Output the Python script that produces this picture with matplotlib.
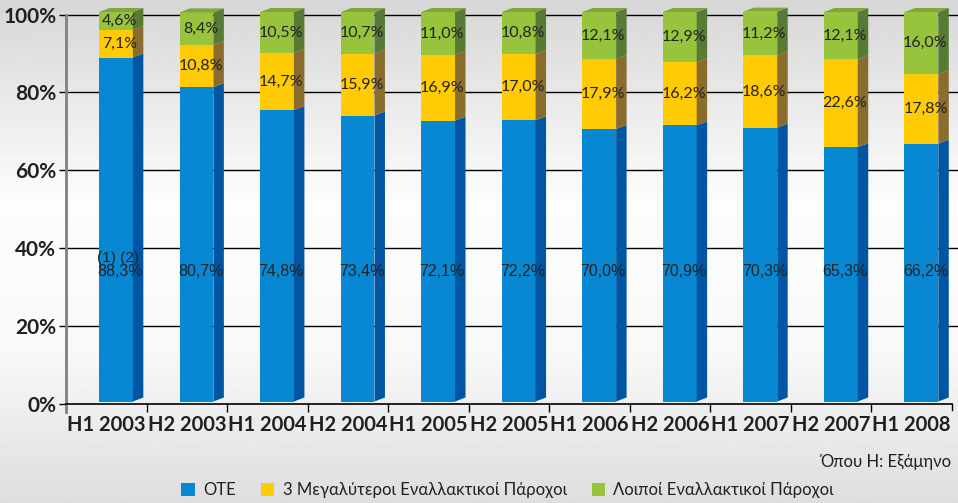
import numpy as np
import matplotlib
matplotlib.use("Agg")
import matplotlib.pyplot as plt
from matplotlib.patches import Polygon
from matplotlib.patches import Patch

periods = ["H1 2003", "H2 2003", "H1 2004", "H2 2004", "H1 2005", "H2 2005",
           "H1 2006", "H2 2006", "H1 2007", "H2 2007", "H1 2008"]
ote = [88.3, 80.7, 74.8, 73.4, 72.1, 72.2, 70.0, 70.9, 70.3, 65.3, 66.2]
big3 = [7.1, 10.8, 14.7, 15.9, 16.9, 17.0, 17.9, 16.2, 18.6, 22.6, 17.8]
others = [4.6, 8.4, 10.5, 10.7, 11.0, 10.8, 12.1, 12.9, 11.2, 12.1, 16.0]
series_names = ["ΟΤΕ", "3 Μεγαλύτεροι Εναλλακτικοί Πάροχοι", "Λοιποί Εναλλακτικοί Πάροχοι"]

front_cols = ["#0888d2", "#ffcb05", "#98c33d"]
side_cols = ["#0056a2", "#8a6c2c", "#577a34"]
top_col = "#7fa63f"

BOLD = ["Lato", "DejaVu Sans"]
REG = ["Lato", "Open Sans", "DejaVu Sans"]
ARIAL = ["Liberation Sans", "DejaVu Sans"]

fig = plt.figure(figsize=(9.58, 5.03), dpi=100)

# background gradient
bg = fig.add_axes([0, 0, 1, 1], zorder=-5)
yy = np.linspace(0, 1, 503)
g = np.interp(yy, [0, 0.4, 0.7, 1.0], [0.84, 0.99, 0.975, 0.87])
bg.imshow(np.tile(g[:, None], (1, 10)), cmap="gray", vmin=0, vmax=1,
          aspect="auto", extent=[0, 1, 0, 1], origin="upper")
bg.set_axis_off()

ax = fig.add_axes([66 / 958, 99 / 503, 886 / 958, 389.5 / 503])
ax.set_facecolor("none")
x = np.arange(len(periods))
ax.set_xlim(-0.5, len(periods) - 0.5)
ax.set_ylim(0, 100)

# 3d geometry
x0off, fw, sw = -0.09, 0.42, 0.13
off, rise = 0.64, 1.03

for gy in [20, 40, 60, 80, 100]:
    ax.plot([-0.47, 10.58], [gy, gy], color="black", lw=1, zorder=1, clip_on=False)

bottoms = np.zeros(len(x))
for k, vals in enumerate([ote, big3, others]):
    vals = np.array(vals)
    ax.bar(x + x0off + fw / 2, vals, width=fw, bottom=bottoms + off,
           color=front_cols[k], zorder=3, clip_on=False, linewidth=0)
    for i in range(len(x)):
        xr = x[i] + x0off + fw
        y0 = bottoms[i] + off
        y1 = y0 + vals[i]
        ax.add_patch(Polygon([(xr, y0), (xr, y1), (xr + sw, y1 + rise), (xr + sw, y0 + rise)],
                             closed=True, facecolor=side_cols[k], edgecolor="none",
                             zorder=3, clip_on=False))
    bottoms = bottoms + vals

for i in range(len(x)):
    xl = x[i] + x0off
    top = bottoms[i] + off
    ax.add_patch(Polygon([(xl, top), (xl + fw, top), (xl + fw + sw, top + rise), (xl + sw, top + rise)],
                         closed=True, facecolor=top_col, edgecolor="none", zorder=3, clip_on=False))

# labels
lab_x = x + 0.17
for i in range(len(x)):
    ax.text(lab_x[i], 34.0, f"{ote[i]:.1f}%".replace(".", ","), ha="center", va="center",
            fontsize=11.5, family=ARIAL, color="#222222", zorder=5)
    ax.text(lab_x[i], ote[i] + big3[i] / 2 + off, f"{big3[i]:.1f}%".replace(".", ","),
            ha="center", va="center", fontsize=11.5, family=REG, color="#222222", zorder=5)
    ax.text(lab_x[i], ote[i] + big3[i] + others[i] / 2 + off, f"{others[i]:.1f}%".replace(".", ","),
            ha="center", va="center", fontsize=11.5, family=REG, color="#222222", zorder=5)
ax.text(lab_x[0] - 0.02, 37.6, "(1) (2)", ha="center", va="center", fontsize=11,
        family=ARIAL, color="#222222", zorder=5)

# axes styling
for s in ["top", "right"]:
    ax.spines[s].set_visible(False)
ax.spines["left"].set_color("#808080")
ax.spines["left"].set_linewidth(2)
ax.spines["left"].set_bounds(-2.1, 100)
ax.spines["bottom"].set_color("black")
ax.spines["bottom"].set_linewidth(1.2)
ax.spines["left"].set_zorder(4)
ax.spines["bottom"].set_zorder(4)

ax.set_yticks([0, 20, 40, 60, 80, 100])
ax.set_yticklabels([f"{v}%" for v in [0, 20, 40, 60, 80, 100]], family=BOLD,
                   fontweight="bold", fontsize=15, color="#231f20")
ax.tick_params(axis="y", length=5, width=1, color="black", pad=2)

ax.set_xticks(x)
ax.set_xticklabels(periods, family=BOLD, fontweight="bold", fontsize=14.5, color="#231f20")
ax.tick_params(axis="x", which="major", length=0, pad=8)
ax.set_xticks(x[1:] - 0.5, minor=True)
ax.tick_params(axis="x", which="minor", length=6, width=1, color="black")
ax.plot([10.5, 10.5], [0, -1.6], color="black", lw=1, clip_on=False)

handles = [Patch(facecolor=c, edgecolor="none") for c in front_cols]
fig.legend(handles, series_names, loc="center", bbox_to_anchor=(0.53, 1 - 490 / 503),
           ncol=3, frameon=False, prop={"family": REG, "size": 12},
           handlelength=0.8, handleheight=0.8, handletextpad=0.5, columnspacing=1.5,
           labelcolor="#231f20")
fig.text(952 / 958, 1 - 462 / 503, "Όπου Η: Εξάμηνο", ha="right", va="center",
         family=REG, fontsize=12, color="#231f20")

fig.savefig("out.png", dpi=100)
